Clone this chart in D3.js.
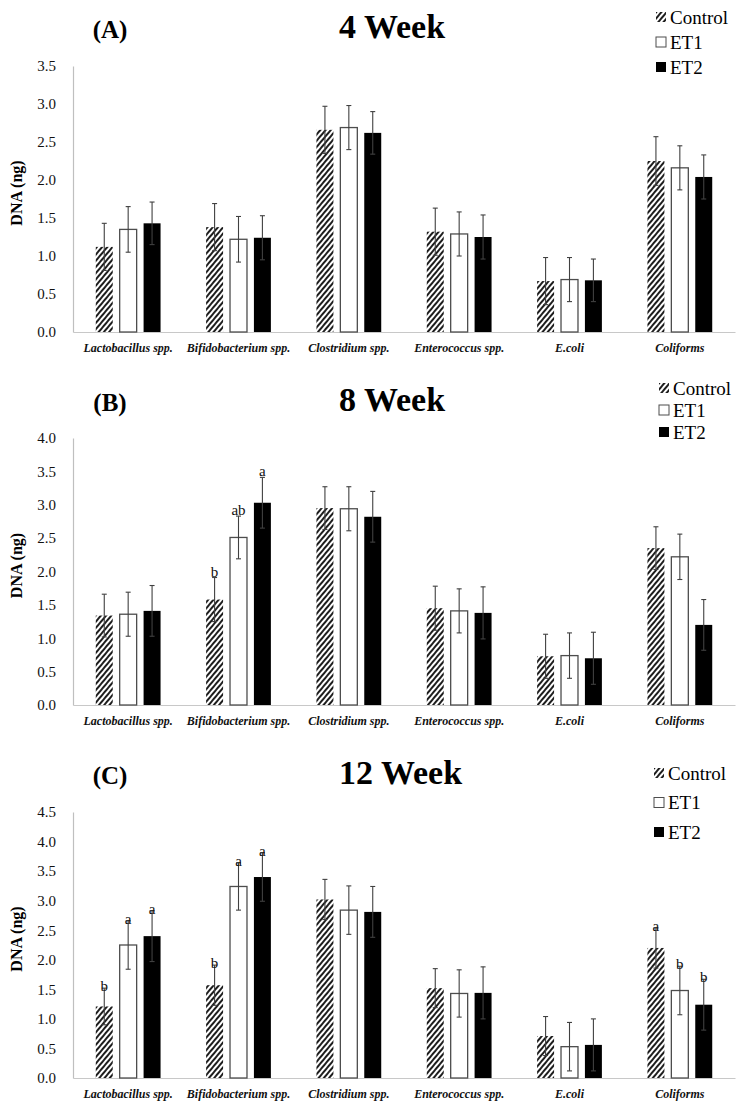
<!DOCTYPE html>
<html lang="en">
<head>
  <meta charset="UTF-8">
  <title>DNA by week</title>
  <script src="https://cdn.jsdelivr.net/npm/d3@7"></script>
  <style>
    body { margin: 0; background: #fff; }
    svg, svg text { font-family: "Liberation Serif", "Times New Roman", serif; }
  </style>
</head>
<body>
<div id="chart"></div>
<script>
  const categories = ['Lactobacillus spp.', 'Bifidobacterium spp.', 'Clostridium spp.', 'Enterococcus spp.', 'E.coli', 'Coliforms']
  const series = ['Control', 'ET1', 'ET2']

  // 4 week
  const week4Control = [1.12, 1.38, 2.66, 1.32, 0.67, 2.25]
  const week4ET1 = [1.35, 1.22, 2.69, 1.29, 0.69, 2.16]
  const week4ET2 = [1.43, 1.24, 2.62, 1.25, 0.68, 2.04]
  const week4ControlErr = [0.31, 0.31, 0.31, 0.31, 0.31, 0.32]
  const week4ET1Err = [0.30, 0.30, 0.29, 0.29, 0.29, 0.29]
  const week4ET2Err = [0.28, 0.29, 0.28, 0.29, 0.28, 0.29]

  // 8 week
  const week8Control = [1.34, 1.58, 2.95, 1.45, 0.73, 2.35]
  const week8ET1 = [1.36, 2.51, 2.94, 1.41, 0.74, 2.22]
  const week8ET2 = [1.41, 3.03, 2.82, 1.38, 0.70, 1.20]
  const week8ControlErr = [0.32, 0.33, 0.32, 0.33, 0.33, 0.32]
  const week8ET1Err = [0.33, 0.32, 0.33, 0.33, 0.34, 0.34]
  const week8ET2Err = [0.38, 0.38, 0.38, 0.39, 0.39, 0.38]
  const week8ControlSig = ['', 'b', '', '', '', '']
  const week8ET1Sig = ['', 'ab', '', '', '', '']
  const week8ET2Sig = ['', 'a', '', '', '', '']

  // 12 week
  const week12Control = [1.21, 1.57, 3.02, 1.52, 0.71, 2.20]
  const week12ET1 = [2.25, 3.24, 2.84, 1.43, 0.53, 1.48]
  const week12ET2 = [2.40, 3.40, 2.81, 1.44, 0.56, 1.24]
  const week12ControlErr = [0.31, 0.34, 0.34, 0.33, 0.33, 0.34]
  const week12ET1Err = [0.41, 0.40, 0.41, 0.40, 0.41, 0.41]
  const week12ET2Err = [0.43, 0.41, 0.43, 0.44, 0.44, 0.43]
  const week12ControlSig = ['b', 'b', '', '', '', 'a']
  const week12ET1Sig = ['a', 'a', '', '', '', 'b']
  const week12ET2Sig = ['a', 'a', '', '', '', 'b']

  const yTicks4 = [0, 0.5, 1, 1.5, 2, 2.5, 3, 3.5]
  const yTicks8 = [0, 0.5, 1, 1.5, 2, 2.5, 3, 3.5, 4]
  const yTicks12 = [0, 0.5, 1, 1.5, 2, 2.5, 3, 3.5, 4, 4.5]

  const noSig = ['', '', '', '', '', '']

  // layout
  const width = 746
  const height = 1109
  const left = 73
  const right = 735
  const FONT = '"Liberation Serif", "Times New Roman", serif'

  const panels = [
    {
      tag: '(A)', title: '4 Week', top: 66, bottom: 332, ticks: yTicks4, titleY: 38,
      values: [week4Control, week4ET1, week4ET2],
      errs: [week4ControlErr, week4ET1Err, week4ET2Err],
      sigs: [noSig, noSig, noSig],
      legendX: 656, legendY: 17, legendGap: 25, sigOffset: 0
    },
    {
      tag: '(B)', title: '8 Week', top: 438, bottom: 705, ticks: yTicks8, titleY: 411,
      values: [week8Control, week8ET1, week8ET2],
      errs: [week8ControlErr, week8ET1Err, week8ET2Err],
      sigs: [week8ControlSig, week8ET1Sig, week8ET2Sig],
      legendX: 659, legendY: 388, legendGap: 22, sigOffset: -1
    },
    {
      tag: '(C)', title: '12 Week', top: 812, bottom: 1078, ticks: yTicks12, titleY: 784,
      values: [week12Control, week12ET1, week12ET2],
      errs: [week12ControlErr, week12ET1Err, week12ET2Err],
      sigs: [week12ControlSig, week12ET1Sig, week12ET2Sig],
      legendX: 654, legendY: 773, legendGap: 29.5, sigOffset: 3
    }
  ]

  const svg = d3.select('#chart')
    .append('svg')
    .attr('width', width)
    .attr('height', height)
    .attr('font-family', FONT)

  const defs = svg.append('defs')
  const hatch = defs.append('pattern')
    .attr('id', 'hatch')
    .attr('patternUnits', 'userSpaceOnUse')
    .attr('width', 4)
    .attr('height', 10)
    .attr('patternTransform', 'rotate(40)')
  hatch.append('rect').attr('width', 4).attr('height', 10).attr('fill', '#fff')
  hatch.append('line')
    .attr('x1', 1).attr('x2', 1)
    .attr('y1', 0).attr('y2', 10)
    .attr('stroke', '#111')
    .attr('stroke-width', 1.9)

  const fills = ['url(#hatch)', '#fff', '#000']
  const strokes = ['none', '#4d4d4d', 'none']

  const x0 = d3.scaleBand()
    .domain(categories)
    .range([left, right])
    .paddingInner(0.35)
    .paddingOuter(0.175)

  const x1 = d3.scaleBand()
    .domain(series)
    .range([0, x0.bandwidth()])
    .paddingInner(0.29)
    .paddingOuter(0.145)

  const drawPanel = p => {
    const g = svg.append('g')
    const y = d3.scaleLinear()
      .domain([0, d3.max(p.ticks)])
      .range([p.bottom, p.top])

    // y axis
    g.append('g')
      .attr('transform', `translate(${left},0)`)
      .call(d3.axisLeft(y).tickValues(p.ticks).tickFormat(d3.format('.1f')).tickSize(0).tickPadding(17))
      .attr('font-family', FONT)
      .call(a => a.select('.domain').attr('stroke', '#bfbfbf').attr('stroke-width', 1.2))
      .call(a => a.selectAll('text')
        .attr('font-size', 15)
        .attr('fill', '#111'))

    // x axis
    g.append('g')
      .attr('transform', `translate(0,${p.bottom})`)
      .call(d3.axisBottom(x0).tickSize(0).tickSizeOuter(0).tickPadding(11))
      .attr('font-family', FONT)
      .call(a => a.select('.domain').attr('stroke', '#c8c8c8').attr('stroke-width', 1.2))
      .call(a => a.selectAll('text')
        .attr('font-size', 12)
        .attr('font-weight', 'bold')
        .attr('font-style', 'italic')
        .attr('fill', '#111'))

    // y title
    g.append('text')
      .attr('transform', `translate(22,${(p.top + p.bottom) / 2 - 6}) rotate(-90)`)
      .attr('text-anchor', 'middle')
      .attr('font-size', 16)
      .attr('font-weight', 'bold')
      .text('DNA (ng)')

    // titles
    g.append('text')
      .attr('x', 110).attr('y', p.titleY)
      .attr('text-anchor', 'middle')
      .attr('font-size', 25)
      .attr('font-weight', 'bold')
      .text(p.tag)
    g.append('text')
      .attr('x', 339).attr('y', p.titleY)
      .attr('font-size', 34)
      .attr('font-weight', 'bold')
      .text(p.title)

    // bars
    const rows = []
    series.forEach((s, si) => {
      categories.forEach((c, ci) => {
        rows.push({ s, si, c, v: p.values[si][ci], e: p.errs[si][ci], sig: p.sigs[si][ci] })
      })
    })

    g.append('g')
      .selectAll('rect')
      .data(rows)
      .join('rect')
      .attr('x', d => x0(d.c) + x1(d.s))
      .attr('y', d => y(d.v))
      .attr('width', x1.bandwidth())
      .attr('height', d => y(0) - y(d.v))
      .attr('fill', d => fills[d.si])
      .attr('stroke', d => strokes[d.si])
      .attr('stroke-width', 1.3)

    // error bars
    const eb = g.append('g')
      .attr('stroke', '#404040')
      .attr('stroke-width', 1.1)
    const cx = d => x0(d.c) + x1(d.s) + x1.bandwidth() / 2
    eb.selectAll('line.v')
      .data(rows)
      .join('line')
      .attr('class', 'v')
      .attr('x1', cx).attr('x2', cx)
      .attr('y1', d => y(d.v - d.e)).attr('y2', d => y(d.v + d.e))
    eb.selectAll('line.hi')
      .data(rows)
      .join('line')
      .attr('class', 'hi')
      .attr('x1', d => cx(d) - 2.5).attr('x2', d => cx(d) + 2.5)
      .attr('y1', d => y(d.v + d.e)).attr('y2', d => y(d.v + d.e))
    eb.selectAll('line.lo')
      .data(rows)
      .join('line')
      .attr('class', 'lo')
      .attr('x1', d => cx(d) - 2.5).attr('x2', d => cx(d) + 2.5)
      .attr('y1', d => y(d.v - d.e)).attr('y2', d => y(d.v - d.e))

    // significance letters
    g.append('g')
      .selectAll('text')
      .data(rows.filter(d => d.sig))
      .join('text')
      .attr('x', cx)
      .attr('y', d => y(d.v + d.e) + p.sigOffset)
      .attr('text-anchor', 'middle')
      .attr('font-size', 15)
      .attr('fill', '#111')
      .text(d => d.sig)

    // legend
    const lg = g.append('g')
      .selectAll('g')
      .data(series)
      .join('g')
      .attr('transform', (d, i) => `translate(${p.legendX},${p.legendY + i * p.legendGap})`)
    lg.append('rect')
      .attr('x', 0).attr('y', -5)
      .attr('width', 10).attr('height', 10)
      .attr('fill', (d, i) => fills[i])
      .attr('stroke', (d, i) => i === 1 ? '#4d4d4d' : 'none')
    lg.append('text')
      .attr('x', 14)
      .attr('y', 0)
      .attr('dy', '0.35em')
      .attr('font-size', 19)
      .text(d => d)
  }

  panels.forEach(drawPanel)
</script>
</body>
</html>
